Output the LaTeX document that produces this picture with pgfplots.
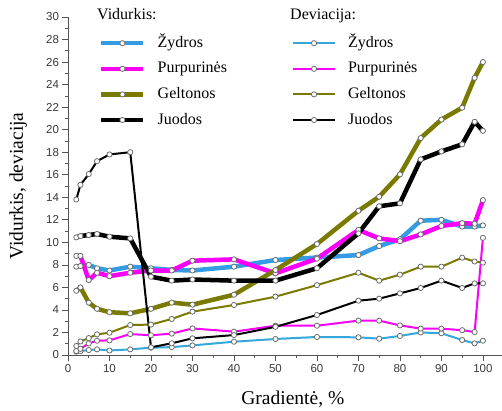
\documentclass[border=0pt]{standalone}
\usepackage{fontspec}
\setmainfont{Liberation Serif}
\setsansfont{Liberation Sans}
\usepackage{pgfplots}
\usepackage{pgfplotstable}
\pgfplotsset{compat=1.18}
\definecolor{cyanM}{RGB}{52,156,228}
\definecolor{cyanD}{RGB}{52,168,218}
\definecolor{magM}{RGB}{250,0,250}
\definecolor{oliveM}{RGB}{122,122,0}
\definecolor{axgray}{RGB}{85,85,85}
\pgfplotstableread{
x   cm    mm    om    km    cd    md    od    kd
2   7.84  8.8   5.7   10.44 0.30  0.35  0.80  13.8
3   7.90  8.8   6.0   10.56 0.35  0.55  1.20  15.1
5   8.00  6.65  4.65  10.65 0.44  1.03  1.50  16.06
7   7.70  7.3   4.1   10.74 0.50  1.27  1.83  17.2
10  7.50  7.0   3.8   10.50 0.40  1.30  1.98  17.8
15  7.84  7.3   3.7   10.35 0.50  1.86  2.66  18.0
20  7.70  7.5   4.1   6.95  0.65  1.75  2.70  0.68
25  7.55  7.5   4.65  6.60  0.70  1.90  3.20  1.04
30  7.50  8.37  4.47  6.70  0.85  2.36  3.85  1.48
40  7.84  8.49  5.35  6.60  1.18  2.07  4.44  1.77
50  8.43  7.25  7.54  6.60  1.42  2.60  5.18  2.50
60  8.65  8.55  9.85  7.70  1.60  2.60  6.20  3.55
70  8.87  11.1  12.8  10.8  1.57  3.05  7.30  4.82
75  9.67  10.35 14.05 13.2  1.45  3.05  6.60  5.00
80  10.27 10.1  16.03 13.46 1.69  2.63  7.13  5.47
85  11.92 10.7  19.25 17.36 2.00  2.34  7.84  5.95
90  12.0  11.45 20.9  18.07 1.93  2.34  7.84  6.60
95  11.4  11.7  21.95 18.7  1.33  2.20  8.64  5.95
98  11.4  11.65 24.6  20.7  1.03  2.04  8.30  6.36
100 11.5  13.75 26.0  19.9  1.27  10.4  8.20  6.36
}\data
\begin{document}
\begin{tikzpicture}
\begin{axis}[
  scale only axis, width=434pt, height=338pt,
  xmin=0, xmax=104.6, ymin=0, ymax=30,
  axis lines=left,
  x axis line style={-, axgray, line width=0.8pt},
  y axis line style={-, axgray, line width=0.8pt},
  tick align=outside,
  major tick length=5.5pt, minor tick length=3pt,
  every tick/.style={axgray, line width=0.7pt},
  xtick={0,10,...,100}, ytick={0,2,...,30},
  minor x tick num=1, minor y tick num=1,
  /pgf/number format/assume math mode=true,
  ticklabel style={font=\sffamily\fontsize{11.5}{13}\selectfont, text=black!78},
  xlabel={Gradientė, \%},
  ylabel={Vidurkis, deviacija},
  label style={font=\fontsize{19.5}{22}\selectfont},
  xlabel style={at={(axis description cs:0.518,-0.130)}, anchor=center},
  ylabel style={at={(axis description cs:-0.115,0.5)}, anchor=center},
  clip=false,
  legend columns=2,
  legend style={draw=none, fill=none, at={(axis description cs:0,1)}, anchor=north west,
    xshift=28pt, yshift=-16pt,
    font=\fontsize{16}{19}\selectfont,
    nodes={inner sep=0pt, text height=12pt, text depth=4pt},
    row sep=9.6pt,
    /tikz/column 1/.style={column sep=12pt},
    /tikz/column 2/.style={column sep=65pt},
    /tikz/column 3/.style={column sep=12pt}},
  legend cell align=left,
  legend image code/.code={\draw[mark repeat=2,mark phase=2,#1] plot coordinates {(0pt,0pt) (21pt,0pt) (42pt,0pt)};},
  mean/.style={line width=4.5pt, line join=round, mark=*, mark size=2.6pt,
    mark options={fill=white, draw=gray!85!black, line width=0.8pt}},
  dev/.style={line width=2pt, line join=round, mark=*, mark size=2.6pt,
    mark options={fill=white, draw=gray!85!black, line width=0.8pt}},
]
\addplot[mean, cyanM, forget plot] table[x=x, y=cm] {\data};
\addplot[mean, magM, forget plot] table[x=x, y=mm] {\data};
\addplot[mean, oliveM, forget plot] table[x=x, y=om] {\data};
\addplot[mean, black, forget plot] table[x=x, y=km] {\data};
\addplot[dev, cyanD, forget plot] table[x=x, y=cd] {\data};
\addplot[dev, magM, forget plot] table[x=x, y=md] {\data};
\addplot[dev, oliveM, forget plot] table[x=x, y=od] {\data};
\addplot[dev, black, forget plot] table[x=x, y=kd] {\data};
\addlegendimage{mean, cyanM}
\addlegendimage{dev, cyanD}
\addlegendimage{mean, magM}
\addlegendimage{dev, magM}
\addlegendimage{mean, oliveM}
\addlegendimage{dev, oliveM}
\addlegendimage{mean, black}
\addlegendimage{dev, black}
\legend{Žydros, Žydros, Purpurinės, Purpurinės, Geltonos, Geltonos, Juodos, Juodos}
\node[anchor=base west, font=\fontsize{16}{19}\selectfont, inner sep=0pt]
  at ([xshift=29pt, yshift=-2.5pt]rel axis cs:0,1) {Vidurkis:};
\node[anchor=base west, font=\fontsize{16}{19}\selectfont, inner sep=0pt]
  at ([xshift=222pt, yshift=-2.5pt]rel axis cs:0,1) {Deviacija:};
\coordinate (SW) at (rel axis cs:0,0);
\coordinate (NE) at (rel axis cs:1,1);
\end{axis}
\pgfresetboundingbox
\path ([shift={(-68pt,-55pt)}]SW) rectangle ([shift={(0pt,17pt)}]NE);
\end{tikzpicture}
\end{document}
